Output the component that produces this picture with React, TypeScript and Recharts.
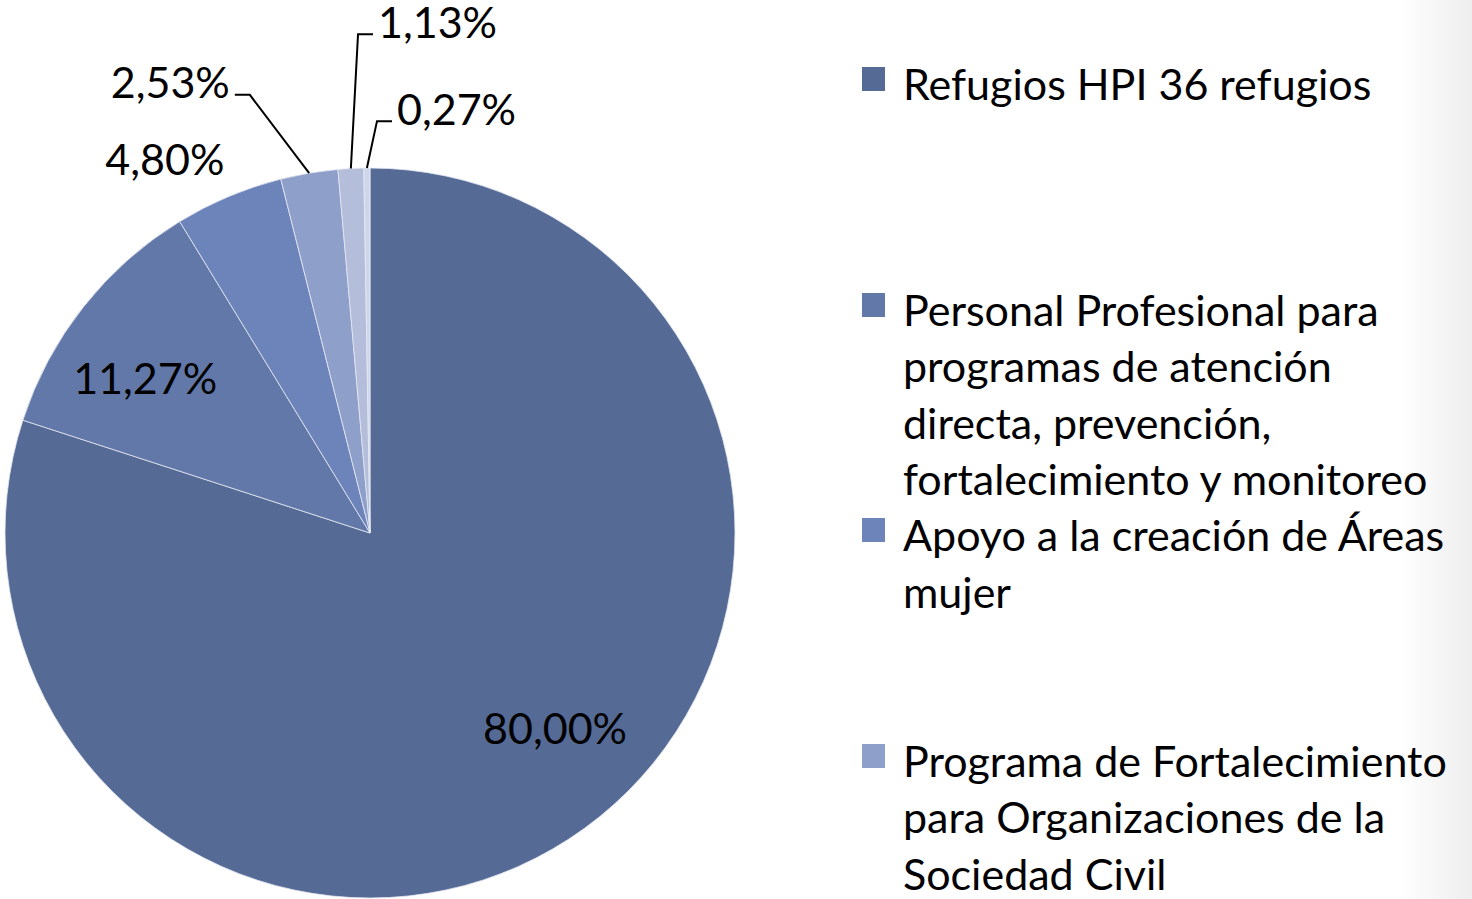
import { PieChart, Pie, Cell, Legend } from "recharts";

// Budget share per programme (percent)
const categories = [
  "Refugios HPI 36 refugios",
  "Personal Profesional para\nprogramas de atención\ndirecta, prevención,\nfortalecimiento y monitoreo",
  "Apoyo a la creación de Áreas\nmujer",
  "Programa de Fortalecimiento\npara Organizaciones de la\nSociedad Civil",
  "Concepto 5",
  "Concepto 6",
];
const shares = [80.0, 11.27, 4.8, 2.53, 1.13, 0.27];
const percentLabels = ["80,00%", "11,27%", "4,80%", "2,53%", "1,13%", "0,27%"];

const colors = ["#556a95", "#6178a8", "#6d84ba", "#8e9fca", "#b4bedb", "#d0d6ea"];

// label placement, relative to the pie radius
const labelPlacement = [
  { dx: 0.507, dy: 0.534, anchor: "middle", leader: false },
  { dx: -0.616, dy: -0.425, anchor: "middle", leader: false },
  { dx: -0.562, dy: -1.027, anchor: "middle", leader: false },
  { dx: -0.384, dy: -1.236, anchor: "end", leader: true },
  { dx: 0.022, dy: -1.402, anchor: "start", leader: true },
  { dx: 0.074, dy: -1.164, anchor: "start", leader: true },
];

const data = categories.map((name, i) => ({ name, value: shares[i], label: percentLabels[i] }));

const FONT = "Lato, 'Open Sans', sans-serif";
const FONT_SIZE = 43;
const RAD = Math.PI / 180;

const renderLabel = (props: any) => {
  const { cx, cy, midAngle, outerRadius, index } = props;
  const p = labelPlacement[index];
  const x = cx + p.dx * outerRadius;
  const y = cy + p.dy * outerRadius;
  let leader = null;
  if (p.leader) {
    const ex = cx + outerRadius * Math.cos(-midAngle * RAD);
    const ey = cy + outerRadius * Math.sin(-midAngle * RAD);
    const dir = p.anchor === "end" ? 1 : -1;
    const ly = y + 13;
    leader = (
      <polyline
        points={`${x + dir * 5},${ly} ${x + dir * 20},${ly} ${ex},${ey}`}
        fill="none"
        stroke="#000"
        strokeWidth={2}
      />
    );
  }
  return (
    <g key={`lbl-${index}`}>
      {leader}
      <text
        x={x}
        y={y}
        textAnchor={p.anchor}
        dominantBaseline="central"
        fill="#000"
        fontSize={FONT_SIZE}
        fontFamily={FONT}
      >
        {data[index].label}
      </text>
    </g>
  );
};

const renderLegend = () => (
  <div style={{ position: "relative", width: 610, height: 899, fontFamily: FONT }}>
    {data.slice(0, 4).map((d, i) => (
      <div
        key={d.name}
        style={{ position: "absolute", left: 0, top: 56 + i * 225.5, width: 610 }}
      >
        <div
          style={{
            position: "absolute",
            left: 0,
            top: 11,
            width: 23,
            height: 24,
            background: colors[i],
          }}
        />
        <div
          style={{
            position: "absolute",
            left: 41,
            top: 0,
            fontSize: FONT_SIZE,
            lineHeight: "56.5px",
            color: "#000",
            whiteSpace: "pre",
          }}
        >
          {d.name}
        </div>
      </div>
    ))}
  </div>
);

export default function App() {
  return (
    <div
      style={{
        width: 1472,
        height: 899,
        overflow: "hidden",
        position: "relative",
        background: "linear-gradient(to right, #ffffff 95%, #eeeeee 100%)",
      }}
    >
      <style>{`body{margin:0}`}</style>
      <PieChart width={1472} height={899} margin={{ top: 0, right: 0, bottom: 0, left: 0 }}>
        <Pie
          data={data}
          dataKey="value"
          nameKey="name"
          cx={370}
          cy={533}
          outerRadius={365}
          startAngle={90}
          endAngle={-270}
          stroke="#e4e9f2"
          strokeWidth={0.8}
          label={renderLabel}
          labelLine={false}
          isAnimationActive={false}
        >
          {data.map((d, i) => (
            <Cell key={d.name} fill={colors[i]} />
          ))}
        </Pie>
        <Legend
          content={renderLegend}
          wrapperStyle={{ position: "absolute", left: 862, top: 0, width: 610, height: 899 }}
        />
      </PieChart>
    </div>
  );
}
